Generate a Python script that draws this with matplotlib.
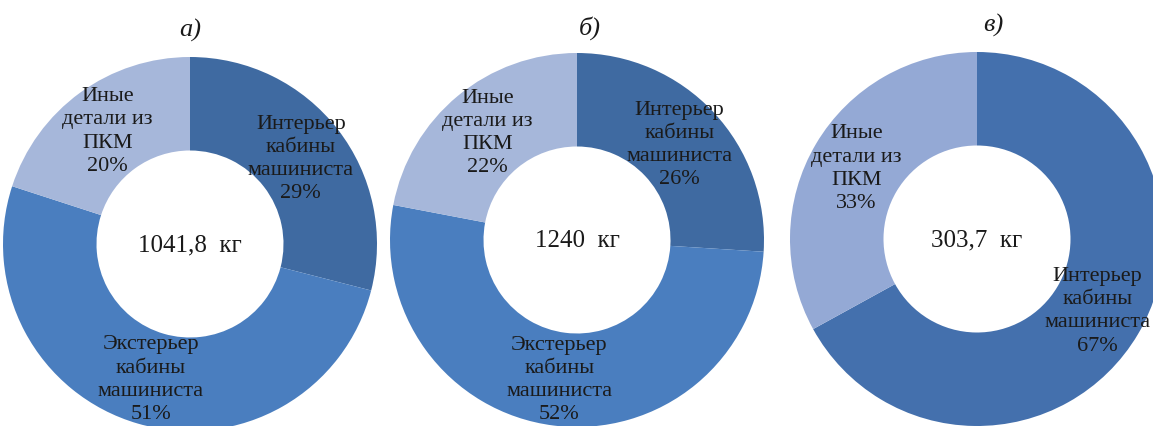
import numpy as np
import matplotlib.pyplot as plt

# data
titles = ['а)', 'б)', 'в)']
totals = ['1041,8  кг', '1240  кг', '303,7  кг']
labels_a = ['Интерьер\nкабины\nмашиниста', 'Экстерьер\nкабины\nмашиниста', 'Иные\nдетали из\nПКМ']
shares_a = [29, 51, 20]
shares_b = [26, 52, 22]
labels_c = ['Интерьер\nкабины\nмашиниста', 'Иные\nдетали из\nПКМ']
shares_c = [67, 33]

colors_ab = ['#3f6aa1', '#4a7ebf', '#a6b7da']
colors_c = ['#4470ad', '#94a9d5']

# chart centres / radius in pixels (figure is 1153x427)
W, H = 1153, 427
centers = [(190, 245), (577, 241), (977, 240)]
R = 187
title_pos = [(190, 30), (590, 28), (993, 25)]

plt.rcParams['font.family'] = ['Liberation Serif', 'DejaVu Serif']

fig = plt.figure(figsize=(W / 100, H / 100), dpi=100)
fig.patch.set_facecolor('white')

datasets = [(shares_a, labels_a, colors_ab),
            (shares_b, labels_a, colors_ab),
            (shares_c, labels_c, colors_c)]

for i, (vals, labs, cols) in enumerate(datasets):
    cx, cy = centers[i]
    ax = fig.add_axes([(cx - R) / W, (H - cy - R) / H, 2 * R / W, 2 * R / H])
    wedges, _ = ax.pie(vals, colors=cols, startangle=90, counterclock=False,
                       radius=1.0, wedgeprops=dict(width=0.5, edgecolor='none'))
    ax.set_xlim(-1, 1)
    ax.set_ylim(-1, 1)
    ax.set_aspect('equal')
    ax.axis('off')
    for w, lab, v in zip(wedges, labs, vals):
        ang = np.deg2rad((w.theta1 + w.theta2) / 2)
        r = 0.75
        ax.text(r * np.cos(ang), r * np.sin(ang), lab + '\n' + str(v) + '%',
                ha='center', va='center', fontsize=16, color='#1a1a1a',
                linespacing=1.3, clip_on=False)
    ax.text(0, 0, totals[i], ha='center', va='center', fontsize=18, color='#1a1a1a')
    tx, ty = title_pos[i]
    fig.text(tx / W, 1 - ty / H, titles[i], ha='center', va='center',
             fontsize=19, style='italic', color='#1a1a1a')

fig.savefig('out.png', dpi=100, facecolor='white')
